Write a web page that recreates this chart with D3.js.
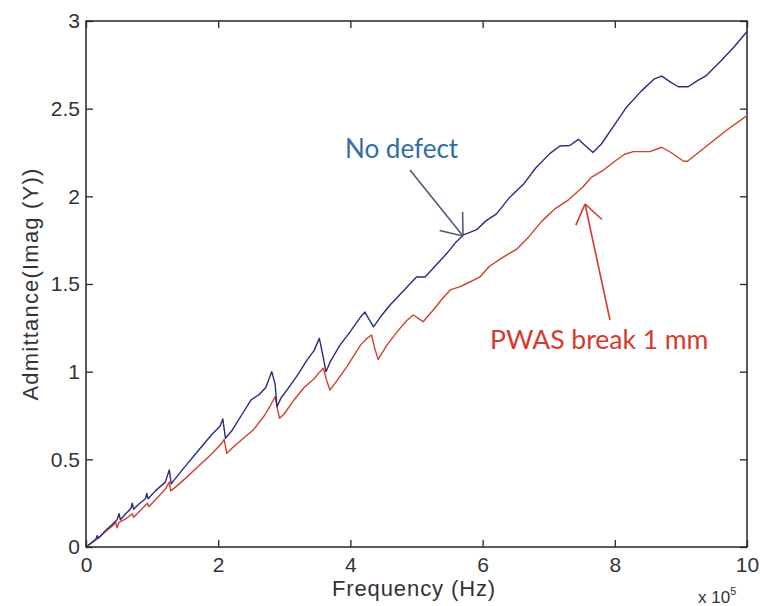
<!DOCTYPE html>
<html><head><meta charset="utf-8">
<script src="https://cdn.jsdelivr.net/npm/d3@7"></script>
<style>
html,body{margin:0;padding:0;background:#fff;}
svg{display:block;}
</style></head>
<body>
<svg id="chart" width="760" height="606"></svg>
<script>
// Frequency values (x 10^5 Hz) and admittance values
const noDefectFreq = [0,0.15,0.17,0.19,0.3,0.4,0.47,0.5,0.52,0.6,0.68,0.7,0.72,0.8,0.9,0.92,0.94,1.05,1.2,1.26,1.29,1.33,1.5,1.7,1.9,2.03,2.07,2.11,2.2,2.35,2.5,2.62,2.72,2.81,2.86,2.89,2.95,3.05,3.2,3.35,3.45,3.53,3.58,3.63,3.7,3.84,4.0,4.15,4.22,4.28,4.35,4.45,4.6,4.75,4.9,5.0,5.13,5.3,5.46,5.6,5.71,5.78,5.91,6.05,6.21,6.4,6.62,6.8,7.02,7.17,7.32,7.45,7.55,7.67,7.8,8.0,8.18,8.4,8.6,8.71,8.85,8.96,9.11,9.25,9.39,9.6,9.8,10.0];
const noDefectY    = [0,0.045,0.065,0.05,0.095,0.13,0.155,0.19,0.155,0.19,0.22,0.25,0.215,0.245,0.275,0.305,0.275,0.32,0.37,0.44,0.36,0.38,0.46,0.55,0.64,0.69,0.73,0.62,0.66,0.75,0.84,0.87,0.91,1.0,0.93,0.80,0.85,0.9,0.98,1.07,1.12,1.19,1.1,1.0,1.06,1.15,1.23,1.31,1.34,1.3,1.256,1.31,1.38,1.44,1.5,1.54,1.54,1.61,1.675,1.74,1.78,1.79,1.81,1.86,1.90,1.99,2.07,2.16,2.245,2.287,2.29,2.325,2.29,2.25,2.3,2.41,2.51,2.6,2.67,2.686,2.65,2.625,2.625,2.66,2.69,2.77,2.85,2.94];

const breakFreq = [0,0.15,0.3,0.4,0.45,0.47,0.5,0.6,0.7,0.72,0.8,0.93,0.95,1.1,1.2,1.26,1.28,1.35,1.5,1.7,1.9,2.05,2.09,2.13,2.2,2.35,2.53,2.7,2.78,2.86,2.9,2.93,3.0,3.15,3.3,3.45,3.54,3.59,3.64,3.69,3.8,3.95,4.15,4.25,4.32,4.37,4.42,4.55,4.65,4.75,4.85,4.95,5.1,5.25,5.4,5.51,5.66,5.8,5.96,6.1,6.3,6.52,6.7,6.9,7.1,7.3,7.52,7.65,7.83,8.0,8.15,8.28,8.53,8.71,8.85,9.04,9.1,9.3,9.5,9.7,10.0];
const breakY    = [0,0.04,0.09,0.12,0.14,0.11,0.14,0.16,0.19,0.17,0.2,0.25,0.23,0.29,0.33,0.37,0.32,0.34,0.39,0.46,0.53,0.59,0.614,0.534,0.56,0.61,0.667,0.75,0.80,0.857,0.78,0.734,0.76,0.84,0.91,0.96,1.0,1.02,0.95,0.895,0.95,1.03,1.15,1.19,1.209,1.13,1.07,1.15,1.2,1.247,1.29,1.323,1.285,1.35,1.42,1.466,1.485,1.51,1.54,1.6,1.65,1.70,1.77,1.86,1.93,1.98,2.055,2.11,2.15,2.2,2.24,2.255,2.255,2.28,2.25,2.2,2.2,2.26,2.32,2.38,2.46];

const xTicks = [0,2,4,6,8,10];
const xTickLabels = ["0","2","4","6","8","10"];
const yTicks = [0,0.5,1,1.5,2,2.5,3];
const yTickLabels = ["0","0.5","1","1.5","2","2.5","3"];

const svg = d3.select("#chart");
const L = 86, R = 747, T = 21, B = 547;
const x = d3.scaleLinear().domain([0,10]).range([L,R]);
const y = d3.scaleLinear().domain([0,3]).range([B,T]);

const axisColor = "#262626";
const font = "'Liberation Sans', Arial, sans-serif";

// frame
svg.append("rect").attr("x",L).attr("y",T).attr("width",R-L).attr("height",B-T)
  .attr("fill","none").attr("stroke",axisColor).attr("stroke-width",1.5);

function styleAxis(g){
  g.select(".domain").remove();
  g.selectAll(".tick line").attr("stroke",axisColor).attr("stroke-width",1.3);
  g.selectAll(".tick text").attr("fill","#333").attr("font-family",font).attr("font-size",21);
}

svg.append("g").attr("transform",`translate(0,${B})`)
  .call(d3.axisBottom(x).tickValues(xTicks).tickFormat((d,i)=>xTickLabels[i]).tickSize(-7).tickPadding(10))
  .call(styleAxis);
svg.append("g").attr("transform",`translate(0,${T})`)
  .call(d3.axisTop(x).tickValues(xTicks).tickFormat("").tickSize(-7))
  .call(styleAxis);
svg.append("g").attr("transform",`translate(${L},0)`)
  .call(d3.axisLeft(y).tickValues(yTicks).tickFormat((d,i)=>yTickLabels[i]).tickSize(-7).tickPadding(6))
  .call(styleAxis);
svg.append("g").attr("transform",`translate(${R},0)`)
  .call(d3.axisRight(y).tickValues(yTicks).tickFormat("").tickSize(-7))
  .call(styleAxis);

// lines
const line = d3.line().x(d=>x(d[0])).y(d=>y(d[1]));
const redData = breakFreq.map((f,i)=>[f,breakY[i]]);
const blueData = noDefectFreq.map((f,i)=>[f,noDefectY[i]]);
svg.append("path").datum(redData).attr("d",line).attr("fill","none")
  .attr("stroke","#d0402e").attr("stroke-width",1.4).attr("stroke-linejoin","round");
svg.append("path").datum(blueData).attr("d",line).attr("fill","none")
  .attr("stroke","#2d2a80").attr("stroke-width",1.4).attr("stroke-linejoin","round");

// axis labels
svg.append("text").attr("x",414).attr("y",596).attr("text-anchor","middle")
  .attr("font-family",font).attr("font-size",22).attr("fill","#333").attr("letter-spacing",0.9)
  .text("Frequency (Hz)");
svg.append("text").attr("transform",`translate(38,${(T+B)/2}) rotate(-90)`).attr("text-anchor","middle")
  .attr("font-family",font).attr("font-size",22).attr("fill","#333").attr("letter-spacing",1.2)
  .text("Admittance(Imag (Y))");
const ex = svg.append("text").attr("x",698).attr("y",603)
  .attr("font-family",font).attr("font-size",17).attr("fill","#333");
ex.append("tspan").text("x 10");
ex.append("tspan").attr("dy",-8).attr("font-size",11).text("5");

// annotations
function arrow(x1,y1,x2,y2,color,len,ang){
  svg.append("line").attr("x1",x1).attr("y1",y1).attr("x2",x2).attr("y2",y2)
    .attr("stroke",color).attr("stroke-width",1.6);
  const a = Math.atan2(y1-y2,x1-x2);
  [ang,-ang].forEach(s=>{
    svg.append("line").attr("x1",x2).attr("y1",y2)
      .attr("x2",x2+len*Math.cos(a+s)).attr("y2",y2+len*Math.sin(a+s))
      .attr("stroke",color).attr("stroke-width",1.6);
  });
}
const annFont = "Lato, 'Open Sans', sans-serif";
svg.append("text").attr("x",345).attr("y",158).attr("font-family",annFont)
  .attr("font-size",26).attr("fill","#2f6ea6").text("No defect");
arrow(410,170,463,236,"#4d5a78",24,0.66);

svg.append("text").attr("x",490).attr("y",349).attr("font-family",annFont)
  .attr("font-size",26.5).attr("fill","#d63a2c").text("PWAS break 1 mm");
arrow(610,320,585,204,"#d63a2c",23,0.62);
</script>
</body></html>
